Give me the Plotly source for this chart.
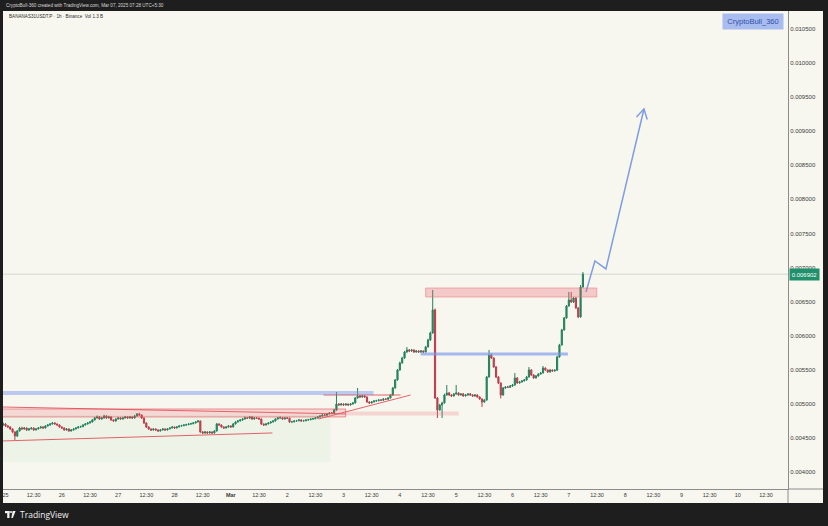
import plotly.graph_objects as go
import pandas as pd

# ---------------- data ----------------
symbol_line = "BANANAS31USDT.P · 1h · Binance  Vol 1.3 B"
header_line = "CryptoBull-360 created with TradingView.com, Mar 07, 2025 07:28 UTC+5:30"
watermark = "CryptoBull_360"

start_time = "2025-02-24 23:30"
first_open = 0.004690

closes = [
    0.004705, 0.004676, 0.004661, 0.004632, 0.004588, 0.004529, 0.004602, 0.004646, 0.004632, 0.004646,
    0.004617, 0.004632, 0.004646, 0.004617, 0.004632, 0.004646, 0.004661, 0.004646, 0.004676, 0.004690,
    0.004705, 0.004720, 0.004705, 0.004690, 0.004661, 0.004646, 0.004617, 0.004632, 0.004602, 0.004617,
    0.004632, 0.004646, 0.004661, 0.004665, 0.004690, 0.004705, 0.004720, 0.004734, 0.004764, 0.004793,
    0.004808, 0.004778, 0.004793, 0.004822, 0.004793, 0.004808, 0.004764, 0.004749, 0.004778, 0.004793,
    0.004778, 0.004793, 0.004808, 0.004793, 0.004808, 0.004793, 0.004822, 0.004852, 0.004837, 0.004793,
    0.004720, 0.004661, 0.004632, 0.004617, 0.004632, 0.004617, 0.004602, 0.004617, 0.004632, 0.004617,
    0.004632, 0.004646, 0.004661, 0.004646, 0.004661, 0.004676, 0.004680, 0.004690, 0.004694, 0.004705,
    0.004709, 0.004720, 0.004734, 0.004749, 0.004588, 0.004573, 0.004588, 0.004573, 0.004588, 0.004573,
    0.004602, 0.004705, 0.004690, 0.004661, 0.004646, 0.004661, 0.004676, 0.004661, 0.004705, 0.004734,
    0.004749, 0.004764, 0.004778, 0.004793, 0.004790, 0.004808, 0.004778, 0.004793, 0.004790, 0.004778,
    0.004705, 0.004690, 0.004705, 0.004720, 0.004734, 0.004749, 0.004778, 0.004793, 0.004796, 0.004778,
    0.004793, 0.004790, 0.004734, 0.004737, 0.004749, 0.004752, 0.004764, 0.004749, 0.004752, 0.004764,
    0.004767, 0.004778, 0.004781, 0.004793, 0.004808, 0.004822, 0.004837, 0.004834, 0.004852, 0.004866,
    0.004862, 0.004910, 0.004998, 0.004984, 0.004998, 0.004984, 0.004998, 0.004984, 0.004998, 0.005013,
    0.005086, 0.005116, 0.005101, 0.005116, 0.005101, 0.005028, 0.005013, 0.005028, 0.005042, 0.005046,
    0.005057, 0.005054, 0.005072, 0.005068, 0.005086, 0.005130, 0.005233, 0.005350, 0.005497, 0.005600,
    0.005673, 0.005761, 0.005791, 0.005776, 0.005791, 0.005761, 0.005776, 0.005761, 0.005776, 0.005761,
    0.005835, 0.005937, 0.006040, 0.006377, 0.005086, 0.004910, 0.004984, 0.005013, 0.005130, 0.005160,
    0.005130, 0.005116, 0.005145, 0.005160, 0.005130, 0.005145, 0.005116, 0.005130, 0.005145, 0.005130,
    0.005116, 0.005130, 0.005101, 0.005072, 0.005028, 0.005057, 0.005394, 0.005717, 0.005673, 0.005541,
    0.005394, 0.005306, 0.005130, 0.005233, 0.005248, 0.005244, 0.005262, 0.005277, 0.005380, 0.005306,
    0.005321, 0.005336, 0.005350, 0.005394, 0.005497, 0.005424, 0.005380, 0.005409, 0.005438, 0.005453,
    0.005526, 0.005497, 0.005468, 0.005497, 0.005482, 0.005494, 0.005688, 0.005864, 0.006084, 0.006260,
    0.006436, 0.006524, 0.006495, 0.006553, 0.006407, 0.006275, 0.006715, 0.006902,
]

highs = [
    0.004725, 0.004718, 0.004690, 0.004670, 0.004640, 0.004600, 0.004617, 0.004661, 0.004665, 0.004661,
    0.004655, 0.004646, 0.004658, 0.004655, 0.004644, 0.004661, 0.004676, 0.004672, 0.004688, 0.004705,
    0.004718, 0.004734, 0.004730, 0.004712, 0.004698, 0.004670, 0.004655, 0.004646, 0.004640, 0.004630,
    0.004644, 0.004658, 0.004674, 0.004680, 0.004702, 0.004718, 0.004734, 0.004749, 0.004778, 0.004808,
    0.004830, 0.004822, 0.004808, 0.004840, 0.004834, 0.004825, 0.004815, 0.004772, 0.004790, 0.004808,
    0.004805, 0.004806, 0.004822, 0.004818, 0.004820, 0.004815, 0.004837, 0.004866, 0.004870, 0.004845,
    0.004800, 0.004728, 0.004670, 0.004640, 0.004644, 0.004640, 0.004626, 0.004630, 0.004644, 0.004640,
    0.004644, 0.004658, 0.004672, 0.004668, 0.004674, 0.004688, 0.004694, 0.004702, 0.004708, 0.004718,
    0.004722, 0.004734, 0.004748, 0.004764, 0.004755, 0.004600, 0.004600, 0.004596, 0.004600, 0.004595,
    0.004615, 0.004720, 0.004715, 0.004698, 0.004670, 0.004674, 0.004688, 0.004684, 0.004718, 0.004746,
    0.004762, 0.004776, 0.004790, 0.004815, 0.004805, 0.004820, 0.004815, 0.004806, 0.004804, 0.004798,
    0.004785, 0.004712, 0.004718, 0.004732, 0.004746, 0.004760, 0.004790, 0.004806, 0.004815, 0.004805,
    0.004806, 0.004804, 0.004798, 0.004750, 0.004762, 0.004765, 0.004776, 0.004772, 0.004765, 0.004776,
    0.004780, 0.004790, 0.004794, 0.004806, 0.004820, 0.004835, 0.004850, 0.004848, 0.004864, 0.004878,
    0.004880, 0.004925, 0.005174, 0.005010, 0.005012, 0.005008, 0.005010, 0.005006, 0.005012, 0.005028,
    0.005100, 0.005233, 0.005130, 0.005130, 0.005128, 0.005108, 0.005040, 0.005042, 0.005055, 0.005060,
    0.005070, 0.005068, 0.005085, 0.005082, 0.005100, 0.005145, 0.005248, 0.005365, 0.005512, 0.005620,
    0.005690, 0.005776, 0.005835, 0.005805, 0.005806, 0.005800, 0.005790, 0.005785, 0.005790, 0.005784,
    0.005850, 0.005955, 0.006060, 0.006671, 0.006400, 0.005100, 0.005000, 0.005030, 0.005150, 0.005277,
    0.005175, 0.005142, 0.005160, 0.005277, 0.005172, 0.005158, 0.005160, 0.005145, 0.005158, 0.005160,
    0.005142, 0.005145, 0.005140, 0.005110, 0.005080, 0.005070, 0.005410, 0.005791, 0.005740, 0.005685,
    0.005555, 0.005405, 0.005315, 0.005248, 0.005262, 0.005265, 0.005277, 0.005292, 0.005453, 0.005392,
    0.005336, 0.005350, 0.005365, 0.005410, 0.005541, 0.005510, 0.005435, 0.005424, 0.005450, 0.005468,
    0.005556, 0.005535, 0.005505, 0.005512, 0.005505, 0.005508, 0.005703, 0.005880, 0.006100, 0.006275,
    0.006451, 0.006642, 0.006642, 0.006568, 0.006565, 0.006420, 0.006744, 0.006935,
]

lows = [
    0.004680, 0.004661, 0.004646, 0.004617, 0.004570, 0.004470, 0.004515, 0.004595, 0.004620, 0.004620,
    0.004602, 0.004605, 0.004625, 0.004605, 0.004610, 0.004625, 0.004640, 0.004635, 0.004640, 0.004668,
    0.004682, 0.004698, 0.004695, 0.004680, 0.004650, 0.004632, 0.004605, 0.004608, 0.004590, 0.004595,
    0.004610, 0.004625, 0.004640, 0.004650, 0.004658, 0.004682, 0.004698, 0.004712, 0.004728, 0.004755,
    0.004785, 0.004766, 0.004770, 0.004785, 0.004780, 0.004785, 0.004752, 0.004737, 0.004740, 0.004770,
    0.004768, 0.004770, 0.004785, 0.004782, 0.004785, 0.004780, 0.004785, 0.004815, 0.004825, 0.004780,
    0.004705, 0.004646, 0.004617, 0.004602, 0.004608, 0.004605, 0.004590, 0.004595, 0.004610, 0.004605,
    0.004610, 0.004625, 0.004640, 0.004635, 0.004640, 0.004655, 0.004668, 0.004672, 0.004680, 0.004688,
    0.004695, 0.004700, 0.004712, 0.004728, 0.004575, 0.004558, 0.004562, 0.004560, 0.004565, 0.004560,
    0.004565, 0.004595, 0.004680, 0.004650, 0.004635, 0.004638, 0.004652, 0.004650, 0.004655, 0.004698,
    0.004726, 0.004742, 0.004755, 0.004770, 0.004778, 0.004782, 0.004766, 0.004770, 0.004780, 0.004766,
    0.004692, 0.004678, 0.004682, 0.004698, 0.004712, 0.004728, 0.004742, 0.004770, 0.004785, 0.004768,
    0.004770, 0.004780, 0.004722, 0.004725, 0.004728, 0.004740, 0.004745, 0.004738, 0.004740, 0.004745,
    0.004755, 0.004760, 0.004770, 0.004774, 0.004785, 0.004800, 0.004815, 0.004825, 0.004826, 0.004845,
    0.004852, 0.004855, 0.004900, 0.004972, 0.004975, 0.004972, 0.004975, 0.004970, 0.004975, 0.004990,
    0.005005, 0.005078, 0.005090, 0.005092, 0.005090, 0.005015, 0.005000, 0.005005, 0.005020, 0.005032,
    0.005038, 0.005042, 0.005045, 0.005058, 0.005060, 0.005078, 0.005120, 0.005225, 0.005340, 0.005485,
    0.005590, 0.005660, 0.005750, 0.005760, 0.005765, 0.005748, 0.005750, 0.005748, 0.005750, 0.005745,
    0.005755, 0.005828, 0.005925, 0.006030, 0.005075, 0.004793, 0.004900, 0.004793, 0.005005, 0.005120,
    0.005118, 0.005100, 0.005108, 0.005135, 0.005118, 0.005120, 0.005105, 0.005108, 0.005120, 0.005120,
    0.005102, 0.005105, 0.005090, 0.005060, 0.004954, 0.005015, 0.005045, 0.005385, 0.005660, 0.005530,
    0.005380, 0.005290, 0.005080, 0.005120, 0.005222, 0.005232, 0.005235, 0.005250, 0.005268, 0.005295,
    0.005298, 0.005312, 0.005328, 0.005342, 0.005385, 0.005410, 0.005368, 0.005372, 0.005400, 0.005428,
    0.005445, 0.005485, 0.005455, 0.005460, 0.005470, 0.005475, 0.005485, 0.005680, 0.005855, 0.006075,
    0.006250, 0.006425, 0.006480, 0.006480, 0.006395, 0.006260, 0.006265, 0.006705,
]

last_price = 0.006902
last_price_label = "0.006902"

y_ticks = [0.0040, 0.0045, 0.0050, 0.0055, 0.0060, 0.0065, 0.0070,
           0.0075, 0.0080, 0.0085, 0.0090, 0.0095, 0.0100, 0.0105]
y_tick_labels = ["0.004000", "0.004500", "0.005000", "0.005500", "0.006000", "0.006500", "0.007000",
                 "0.007500", "0.008000", "0.008500", "0.009000", "0.009500", "0.010000", "0.010500"]

x_tick_days = ["2025-02-25", "2025-02-26", "2025-02-27", "2025-02-28", "2025-03-01", "2025-03-02",
               "2025-03-03", "2025-03-04", "2025-03-05", "2025-03-06", "2025-03-07", "2025-03-08",
               "2025-03-09", "2025-03-10"]
x_day_labels = ["25", "26", "27", "28", "<b>Mar</b>", "2", "3", "4", "5", "6", "7", "8", "9", "10"]
x_half_label = "12:30"

x_range = ["2025-02-24 23:26", "2025-03-10 21:52"]
y_range = [0.003751, 0.010764]

# drawings (time, price)
blue_band_t = ["2025-02-24 12:00", "2025-03-03 13:18"]
blue_band_p = [0.005131, 0.005189]
red_zone_t = ["2025-02-24 12:00", "2025-03-03 01:24"]
red_zone_p = [0.004808, 0.004925]
red_zone2_t = ["2025-03-03 01:24", "2025-03-05 01:36"]
red_zone2_p = [0.004830, 0.004888]
green_zone_t = ["2025-02-24 12:00", "2025-03-02 19:00"]
green_zone_p = [0.004148, 0.004837]
top_zone_t = ["2025-03-04 11:30", "2025-03-07 12:24"]
top_zone_p = [0.006568, 0.006700]
mid_blue_t = ["2025-03-04 09:24", "2025-03-07 00:06"]
mid_blue_p = [0.005732, 0.005732]
desc_line_t = ["2025-02-24 23:26", "2025-03-03 01:24"]
desc_line_p = [0.004954, 0.004852]
support_line_t = ["2025-02-24 23:26", "2025-03-01 18:12"]
support_line_p = [0.004456, 0.004573]
rise_line_t = ["2025-03-02 13:48", "2025-03-04 05:06"]
rise_line_p = [0.004778, 0.005130]
flat_line_t = ["2025-03-02 16:00", "2025-03-04 00:48"]
flat_line_p = [0.005130, 0.005130]
arrow_t = ["2025-03-07 07:48", "2025-03-07 11:36", "2025-03-07 16:18", "2025-03-08 08:30"]
arrow_p = [0.006642, 0.007096, 0.006979, 0.009326]
arrow_head_t = ["2025-03-08 05:18", "2025-03-08 08:30", "2025-03-08 09:54"]
arrow_head_p = [0.009209, 0.009326, 0.009172]

# ---------------- styling ----------------
W, H = 828, 526
ML, MR, MT, MB = 3, 40, 11, 37
PW, PH = W - ML - MR, H - MT - MB
DARK = "#1e1e1e"
BG = "#f7f7ef"
GREEN = "#23825f"
RED = "#bd3d4a"
AXIS = "#8c8c8c"
FONT = "Liberation Sans"


def px(x):
    return (x - ML) / PW


def py(y):
    return (MT + PH - y) / PH


times = pd.date_range(start_time, periods=len(closes), freq="h")
opens = [first_open] + closes[:-1]

x_tick_vals, x_tick_text = [], []
for d, lab in zip(x_tick_days, x_day_labels):
    x_tick_vals += [d + " 00:30", d + " 12:30"]
    x_tick_text += [lab, x_half_label]

fig = go.Figure()

fig.add_trace(go.Candlestick(
    x=times, open=opens, high=highs, low=lows, close=closes,
    increasing=dict(line=dict(color=GREEN, width=1), fillcolor=GREEN),
    decreasing=dict(line=dict(color=RED, width=1), fillcolor=RED),
    whiskerwidth=0, showlegend=False, hoverinfo="skip",
))

line_red = "rgba(226,70,82,0.85)"
for tt, pp in [(desc_line_t, desc_line_p), (support_line_t, support_line_p),
               (rise_line_t, rise_line_p), (flat_line_t, flat_line_p)]:
    fig.add_trace(go.Scatter(x=tt, y=pp, mode="lines", line=dict(color=line_red, width=1),
                             showlegend=False, hoverinfo="skip"))

fig.add_trace(go.Scatter(x=mid_blue_t, y=mid_blue_p, mode="lines",
                         line=dict(color="rgba(120,150,235,0.65)", width=3),
                         showlegend=False, hoverinfo="skip"))
fig.add_trace(go.Scatter(x=arrow_t, y=arrow_p, mode="lines",
                         line=dict(color="#7e9de3", width=1.5),
                         showlegend=False, hoverinfo="skip"))
fig.add_trace(go.Scatter(x=arrow_head_t, y=arrow_head_p, mode="lines",
                         line=dict(color="#7e9de3", width=1.5),
                         showlegend=False, hoverinfo="skip"))

shapes = [
    # light panel (chart + axes)
    dict(type="rect", xref="paper", yref="paper", x0=px(ML), x1=px(823), y0=py(503), y1=py(MT),
         fillcolor=BG, line=dict(width=0), layer="below"),
    # green zone
    dict(type="rect", xref="x", yref="y", x0=green_zone_t[0], x1=green_zone_t[1],
         y0=green_zone_p[0], y1=green_zone_p[1], fillcolor="rgba(140,210,150,0.09)",
         line=dict(width=0), layer="below"),
    # current price line
    dict(type="line", xref="paper", yref="y", x0=0, x1=1, y0=last_price, y1=last_price,
         line=dict(color="rgba(150,160,150,0.35)", width=1), layer="below"),
    # zones
    dict(type="rect", xref="x", yref="y", x0=blue_band_t[0], x1=blue_band_t[1],
         y0=blue_band_p[0], y1=blue_band_p[1], fillcolor="rgba(110,145,235,0.45)",
         line=dict(width=0), layer="above"),
    dict(type="rect", xref="x", yref="y", x0=red_zone_t[0], x1=red_zone_t[1],
         y0=red_zone_p[0], y1=red_zone_p[1], fillcolor="rgba(240,90,100,0.20)",
         line=dict(color="rgba(226,70,82,0.55)", width=1), layer="above"),
    dict(type="rect", xref="x", yref="y", x0=red_zone2_t[0], x1=red_zone2_t[1],
         y0=red_zone2_p[0], y1=red_zone2_p[1], fillcolor="rgba(240,110,120,0.25)",
         line=dict(width=0), layer="above"),
    dict(type="rect", xref="x", yref="y", x0=top_zone_t[0], x1=top_zone_t[1],
         y0=top_zone_p[0], y1=top_zone_p[1], fillcolor="rgba(240,100,110,0.30)",
         line=dict(color="rgba(230,110,120,0.5)", width=1), layer="above"),
    # axis separators extended
    dict(type="line", xref="paper", yref="paper", x0=1, x1=1, y0=py(503), y1=0,
         line=dict(color=AXIS, width=1)),
    dict(type="line", xref="paper", yref="paper", x0=1, x1=px(823), y0=0, y1=0,
         line=dict(color=AXIS, width=1)),
    # TradingView logo (footer)
    dict(type="rect", xref="paper", yref="paper", x0=px(5), x1=px(9.5), y0=py(513.2), y1=py(511),
         fillcolor="#f2f2f2", line=dict(width=0)),
    dict(type="rect", xref="paper", yref="paper", x0=px(7.2), x1=px(9.5), y0=py(518), y1=py(511),
         fillcolor="#f2f2f2", line=dict(width=0)),
    dict(type="circle", xref="paper", yref="paper", x0=px(10), x1=px(12), y0=py(513.2), y1=py(511),
         fillcolor="#f2f2f2", line=dict(width=0)),
    dict(type="path", xref="paper", yref="paper",
         path=f"M {px(12.6)} {py(511)} L {px(15.6)} {py(511)} L {px(12.8)} {py(518)} L {px(11.3)} {py(518)} Z",
         fillcolor="#f2f2f2", line=dict(width=0)),
]

annotations = [
    dict(text=header_line, xref="paper", yref="paper", x=px(4), y=py(5.2), xanchor="left",
         yanchor="middle", showarrow=False, font=dict(family=FONT, size=4.6, color="#d8d8d8")),
    dict(text=symbol_line, xref="paper", yref="paper", x=px(7), y=py(16.5), xanchor="left",
         yanchor="middle", showarrow=False, font=dict(family=FONT, size=4.6, color="#2a2a2a")),
    dict(text=watermark, xref="paper", yref="paper", x=px(753), y=py(21), xanchor="center",
         yanchor="middle", showarrow=False, width=60, height=15, borderpad=0,
         bgcolor="#a9bcf0", font=dict(family=FONT, size=7.5, color="#2d50a8")),
    dict(text=last_price_label, xref="paper", yref="y", x=1.0015, y=last_price, xanchor="left",
         yanchor="middle", showarrow=False, width=29, height=11, borderpad=0,
         bgcolor="#1f8f6c", font=dict(family=FONT, size=6, color="#ffffff")),
    dict(text="TradingView", xref="paper", yref="paper", x=px(18), y=py(514.5), xanchor="left",
         yanchor="middle", showarrow=False, font=dict(family="Open Sans", size=8.5, color="#f0f0f0")),
]

fig.update_layout(
    width=W, height=H,
    margin=dict(l=ML, r=MR, t=MT, b=MB, pad=0),
    paper_bgcolor=DARK, plot_bgcolor=BG,
    showlegend=False,
    shapes=shapes, annotations=annotations,
    xaxis=dict(type="date", range=x_range, tickmode="array", tickvals=x_tick_vals,
               ticktext=x_tick_text, showgrid=False, zeroline=False, showline=True,
               linecolor=AXIS, linewidth=1, ticks="", tickangle=0,
               tickfont=dict(family=FONT, size=5.5, color="#3a3a3a"),
               rangeslider=dict(visible=False), fixedrange=True),
    yaxis=dict(side="right", range=y_range, tickmode="array", tickvals=y_ticks,
               ticktext=y_tick_labels, showgrid=False, zeroline=False, showline=True,
               linecolor=AXIS, linewidth=1, ticks="",
               tickfont=dict(family=FONT, size=6, color="#3a3a3a"), fixedrange=True),
)

fig.write_html(
    "out.html",
    config={"displayModeBar": False},
    post_script=["document.body.style.margin='0';document.body.style.overflow='hidden';"
                 "document.body.style.background='" + DARK + "';"],
)
